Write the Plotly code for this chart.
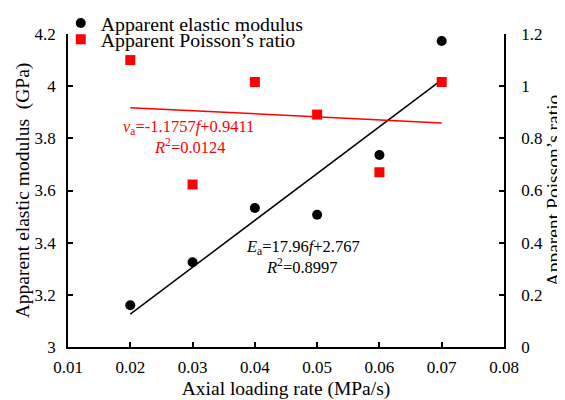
import plotly.graph_objects as go

# Data
loading_rate = [0.02, 0.03, 0.04, 0.05, 0.06, 0.07]
elastic_modulus = [3.16, 3.325, 3.533, 3.507, 3.736, 4.173]
poisson_ratio = [1.10, 0.623, 1.016, 0.891, 0.670, 1.016]

# Fitted trendline coefficients (as reported on the chart)
E_slope, E_intercept = 17.96, 2.767
v_slope, v_intercept = -1.1757, 0.9411
fit_x = [0.02, 0.07]

x_ticks = [0.01, 0.02, 0.03, 0.04, 0.05, 0.06, 0.07, 0.08]
x_tick_labels = ["0.01", "0.02", "0.03", "0.04", "0.05", "0.06", "0.07", "0.08"]
y1_ticks = [3, 3.2, 3.4, 3.6, 3.8, 4, 4.2]
y1_tick_labels = ["3", "3.2", "3.4", "3.6", "3.8", "4", "4.2"]
y2_ticks = [0, 0.2, 0.4, 0.6, 0.8, 1, 1.2]
y2_tick_labels = ["0", "0.2", "0.4", "0.6", "0.8", "1", "1.2"]

FONT = "Liberation Serif, Times New Roman, serif"

fig = go.Figure()

fig.add_trace(go.Scatter(
    x=loading_rate, y=elastic_modulus, mode="markers",
    name="Apparent elastic modulus", legend="legend",
    marker=dict(symbol="circle", size=10, color="black"),
))
fig.add_trace(go.Scatter(
    x=loading_rate, y=poisson_ratio, mode="markers",
    name="Apparent Poisson’s ratio", yaxis="y2", legend="legend2",
    marker=dict(symbol="square", size=10, color="#ff0000"),
))
fig.add_trace(go.Scatter(
    x=fit_x, y=[E_slope * x + E_intercept for x in fit_x], mode="lines",
    line=dict(color="black", width=1.5), showlegend=False, hoverinfo="skip",
))
fig.add_trace(go.Scatter(
    x=fit_x, y=[v_slope * x + v_intercept for x in fit_x], mode="lines",
    yaxis="y2", line=dict(color="#ff0000", width=1.5), showlegend=False, hoverinfo="skip",
))

axis_common = dict(
    showgrid=False, zeroline=False, showline=True, linecolor="black", linewidth=1.5,
    ticks="inside", ticklen=5, tickwidth=1.5, tickcolor="black",
    tickfont=dict(family=FONT, size=17, color="black"),
    automargin=True,
)

legend_common = dict(
    xref="paper", yref="paper",
    xanchor="left", yanchor="middle",
    font=dict(family=FONT, size=19.8, color="black"),
    bgcolor="rgba(0,0,0,0)",
)

fig.update_layout(
    width=565, height=400,
    margin=dict(l=60, r=69, t=25.5, b=60.7, autoexpand=False),
    paper_bgcolor="white", plot_bgcolor="white",
    font=dict(family=FONT, color="black"),
    xaxis=dict(
        range=[0.01, 0.08], tickvals=x_ticks, ticktext=x_tick_labels,
        title=dict(text="Axial loading rate (MPa/s)", font=dict(family=FONT, size=19.5), standoff=5),
        ticklabelstandoff=4,
        **axis_common,
    ),
    yaxis=dict(
        range=[3, 4.2], tickvals=y1_ticks, ticktext=y1_tick_labels,
        title=dict(text="Apparent elastic modulus\u00a0\u00a0(GPa)", font=dict(family=FONT, size=19.5), standoff=0),
        ticklabelstandoff=7,
        **axis_common,
    ),
    yaxis2=dict(
        range=[0, 1.2], tickvals=y2_tick_labels and y2_ticks, ticktext=y2_tick_labels,
        overlaying="y", side="right",
        title=dict(text="Apparent Poisson’s ratio", font=dict(family=FONT, size=19.5), standoff=3),
        ticklabelstandoff=12,
        **axis_common,
    ),
    legend=dict(x=-0.0166, y=1.035, **legend_common),
    legend2=dict(x=-0.0166, y=0.9826, **legend_common),
    showlegend=True,
)

ann_font_red = dict(family=FONT, size=16.5, color="#ff0000")
ann_font_black = dict(family=FONT, size=16.5, color="black")
fig.add_annotation(x=0.0294, y=3.842, xref="x", yref="y", showarrow=False,
                   text="<i>v</i><sub>a</sub>=-1.1757<i>f</i>+0.9411", font=ann_font_red)
fig.add_annotation(x=0.0296, y=3.770, xref="x", yref="y", showarrow=False,
                   text="<i>R</i><sup>2</sup>=0.0124", font=ann_font_red)
fig.add_annotation(x=0.0477, y=3.385, xref="x", yref="y", showarrow=False,
                   text="<i>E</i><sub>a</sub>=17.96<i>f</i>+2.767", font=ann_font_black)
fig.add_annotation(x=0.0476, y=3.308, xref="x", yref="y", showarrow=False,
                   text="<i>R</i><sup>2</sup>=0.8997", font=ann_font_black)

fig.write_html("out.html")
